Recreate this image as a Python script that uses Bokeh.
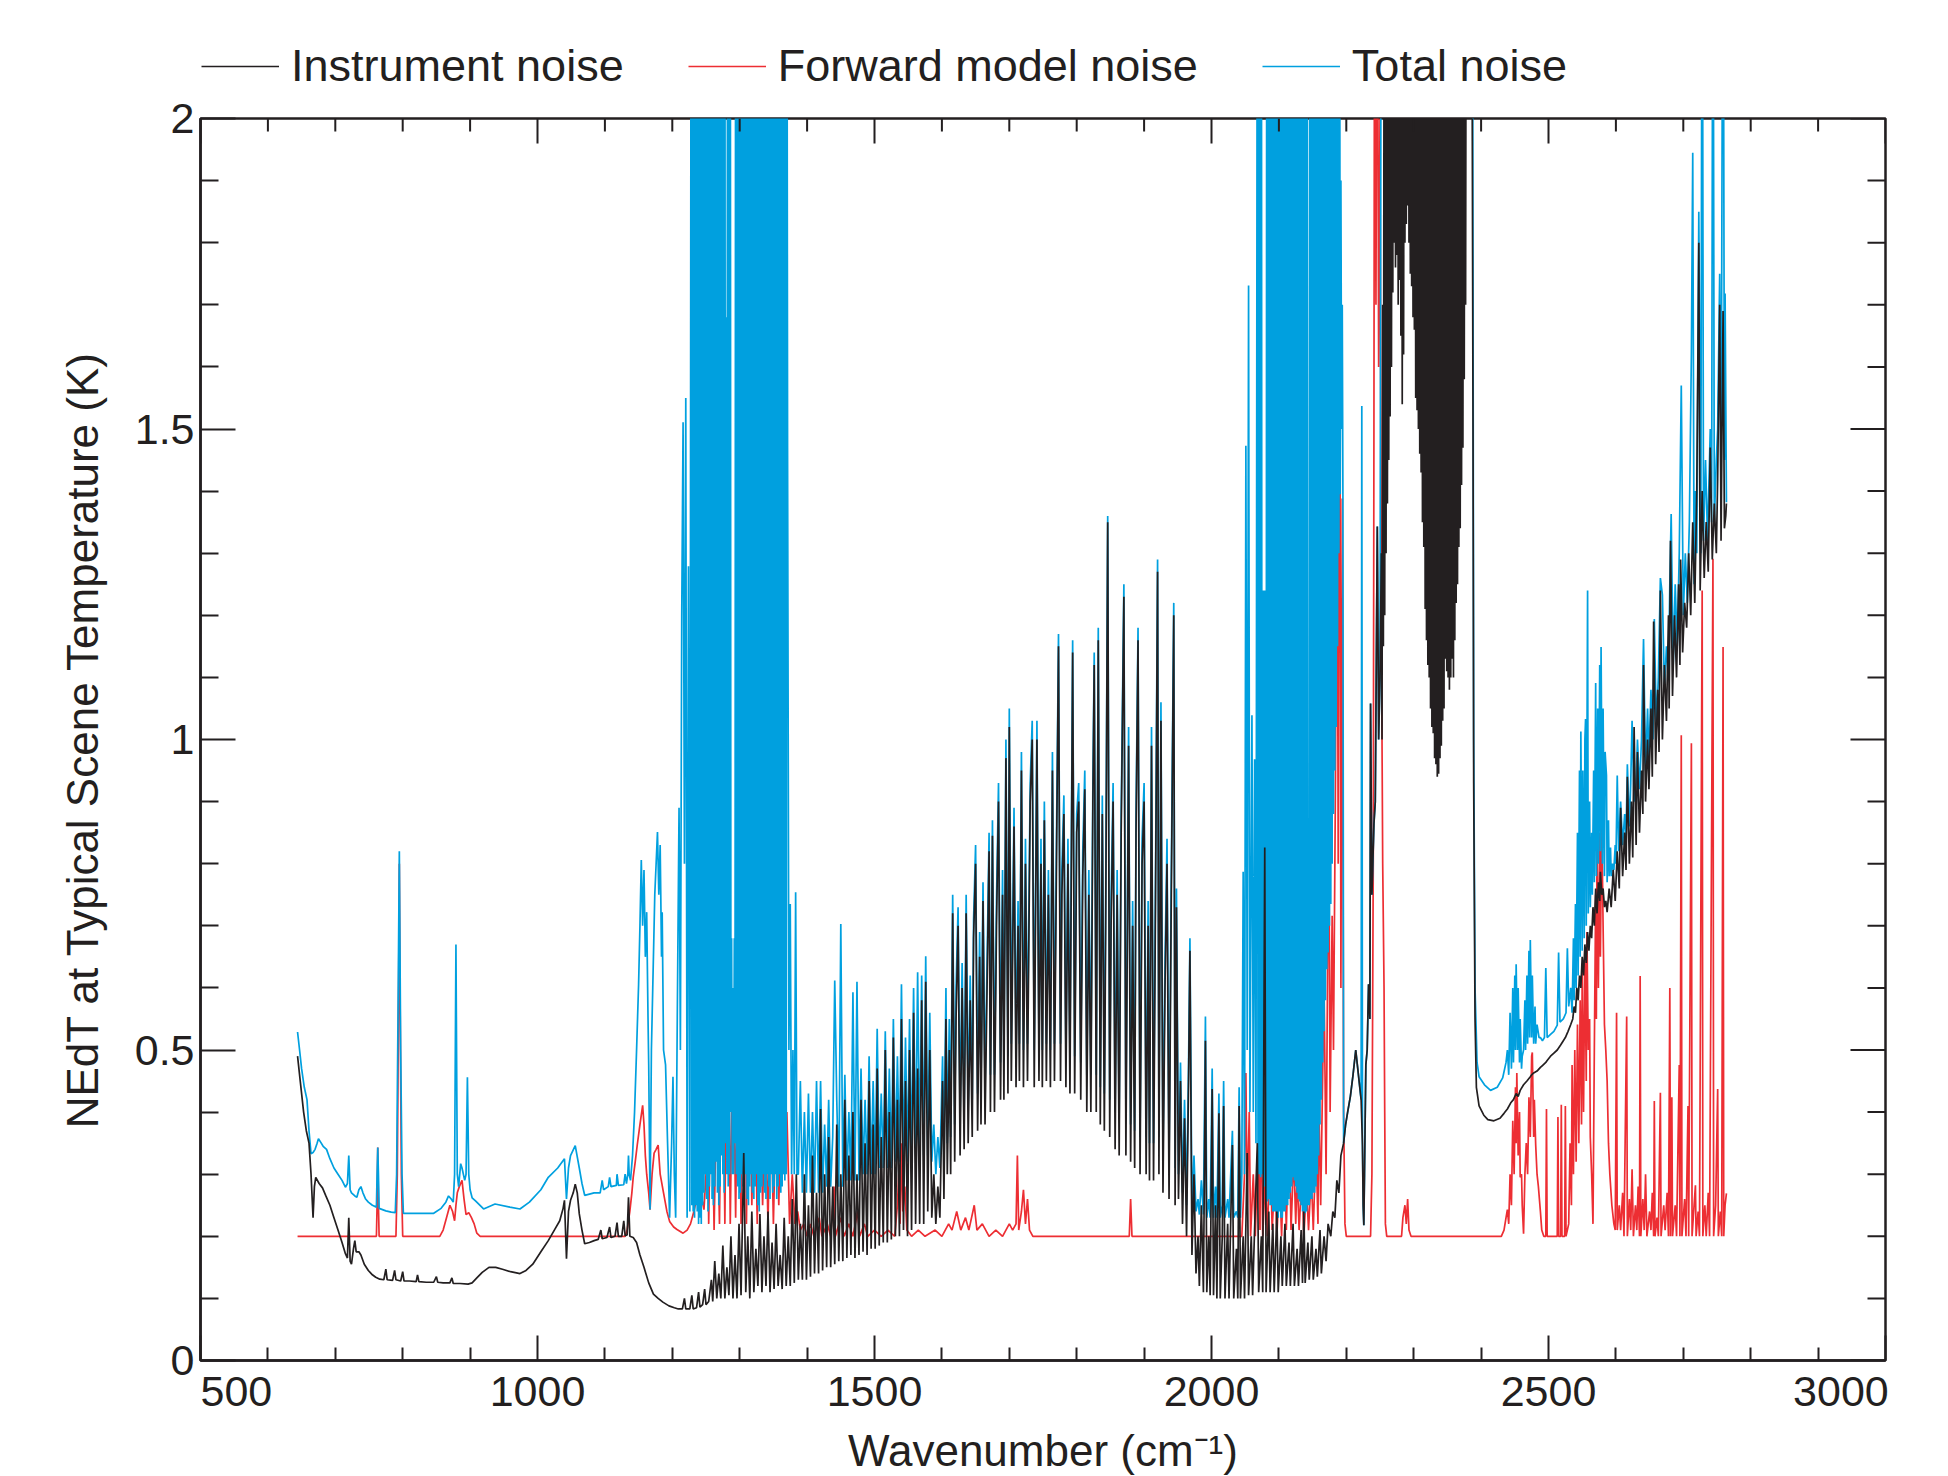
from bokeh.plotting import figure
from bokeh.layouts import column
from bokeh.models import Range1d, FixedTicker, NumeralTickFormatter, Legend, LegendItem
from bokeh.embed import file_html
from bokeh.resources import INLINE

FONT = "Liberation Sans"
TXT = "#231f20"
C_INST = "#231f20"
C_FM = "#ed2e33"
C_TOT = "#00a0df"

# ---------------- Instrument noise (black) ----------------
inst_a = [(644,0.49),(648,0.45),(653,0.40),(657,0.37),(661,0.35),(664,0.30),(667,0.23),(669,0.28),(671,0.295),(676,0.285),(681,0.278),(686,0.265),(692,0.25),(698,0.23),(704,0.21),(710,0.19),(715,0.172),(718,0.165),(720,0.23),(722,0.16),(724,0.155),(727,0.18),(729,0.193),(731,0.175),(735,0.175),(738,0.17),(743,0.155),(749,0.145),(755,0.138),(760,0.134),(766,0.131),(772,0.13),(775,0.147),(777,0.13),(785,0.129),(788,0.145),(790,0.13),(797,0.128),(800,0.143),(802,0.128),(810,0.128),(820,0.127),(822,0.138),(824,0.127),(835,0.126),(846,0.126),(850,0.135),(852,0.126),(860,0.125),(870,0.125),(873,0.133),(875,0.124),(885,0.124),(897,0.123),(903,0.125),(910,0.133),(918,0.142),(928,0.15),(938,0.15),(948,0.147),(960,0.143),(974,0.14),(983,0.145),(993,0.155),(1005,0.175),(1016,0.193),(1025,0.21),(1033,0.225),(1038,0.245),(1040,0.258),(1043,0.164),(1046,0.24),(1049,0.258),(1053,0.27),(1056,0.284),(1059,0.27),(1062,0.236),(1066,0.21),(1070,0.188),(1077,0.19),(1084,0.193),(1090,0.195),(1094,0.21),(1096,0.196),(1103,0.198),(1107,0.215),(1109,0.198),(1115,0.2),(1118,0.222),(1120,0.2),(1125,0.2),(1128,0.225),(1130,0.201),(1133,0.202),(1135,0.263),(1137,0.2),(1142,0.198),(1147,0.19),(1152,0.17),(1158,0.15),(1165,0.125),(1172,0.107),(1179,0.1),(1186,0.094),(1195,0.088),(1203,0.085),(1209,0.083),(1215,0.083),(1218,0.1),(1220,0.083),(1226,0.083),(1229,0.105),(1231,0.083),(1236,0.085),(1239,0.11),(1241,0.086),(1245,0.09),(1248,0.115),(1250,0.09),(1254,0.095)]

inst_b = [(1258,0.13),(1260,0.095),(1263,0.16),(1266,0.1),(1269,0.14),(1272,0.1),(1275,0.185),(1278,0.1),(1281,0.15),(1284,0.105),(1287,0.2),(1290,0.1),(1293,0.17),(1296,0.1),(1299,0.22),(1302,0.105),(1306,0.334),(1309,0.11),(1312,0.2),(1315,0.1),(1318,0.24),(1321,0.11),(1324,0.18),(1327,0.12),(1330,0.236),(1333,0.11),(1336,0.2),(1339,0.12),(1342,0.24),(1345,0.11),(1348,0.19),(1351,0.115),(1354,0.22),(1357,0.12),(1360,0.17),(1363,0.115),(1366,0.23),(1369,0.12),(1372,0.2),(1375,0.12),(1378,0.26),(1381,0.125),(1384,0.3)]

# shared wavenumber grid 1387-1985 for instrument and total noise
wn_mid = [1387,1390,1393,1396,1399,1402,1405,1408,1411,1414,1417,1420,1423,1426,1429,1432,1435,1438,1441,1444,1447,1450,1453,1456,1459,1462,1465,1468,1471,1474,1477,1480,1483,1486,1489,1492,1495,1498,1501,1504,1507,1510,1513,1516,1519,1522,1525,1528,1531,1534,1537,1540,1543,1546,1549,1552,1555,1558,1561,1564,1567,1570,1573,1576,1579,1582,1585,1588,1591,1594,1597,
          1601,1603,1606,1608,1611,1613,1616,1619,1621,1624,1627,1630,1633,1636,1639,1642,1645,1647,1650,1653,1656,1658,1661,1664,1667,1670,1672,1675,1678,1681,1684,1687,1690,1692,1695,1698,1700,1703,1707,1710,1713,1715,1718,1721,1724,1727,1731,1734,1737,1741,1744,1747,1749,1752,1755,1758,1761,1764,1767,1770,1773,1776,1778,1781,1784,1787,1790,1794,1797,1800,1803,1806,1809,1812,1815,1818,1821,1824,1826,1829,1832,1835,1838,1841,1843,1846,1849,1851,1854,1857,1860,1863,1866,1870,1873,1877,1880,1883,1886,1888,1891,1894,1897,1900,1903,1906,1908,1911,1914,1917,1920,1922,1925,1928,1931,1934,1937,1940,1944,1946,1948,1951,1954,1957,1960,1963,1966,1968,1971,1974,1977,1980,1982,1985]
inst_mid = [0.13,0.22,0.13,0.30,0.13,0.25,0.135,0.33,0.14,0.27,0.14,0.405,0.145,0.30,0.15,0.36,0.15,0.28,0.155,0.38,0.16,0.30,0.16,0.42,0.165,0.33,0.17,0.40,0.165,0.30,0.17,0.42,0.175,0.35,0.17,0.45,0.18,0.38,0.18,0.47,0.185,0.36,0.19,0.50,0.19,0.40,0.195,0.52,0.20,0.42,0.20,0.55,0.21,0.45,0.20,0.50,0.21,0.56,0.22,0.47,0.22,0.58,0.22,0.61,0.24,0.50,0.23,0.30,0.22,0.28,0.23,
            0.45,0.26,0.55,0.30,0.50,0.30,0.72,0.32,0.55,0.70,0.33,0.60,0.34,0.72,0.35,0.58,0.36,0.68,0.80,0.37,0.65,0.38,0.74,0.38,0.60,0.82,0.40,0.845,0.40,0.70,0.90,0.42,0.75,0.42,0.97,0.43,1.02,0.45,0.86,0.44,0.70,0.45,0.95,0.44,0.80,0.45,0.90,1.00,0.44,1.00,0.45,0.80,0.44,0.87,0.45,0.75,0.44,0.95,0.45,0.80,1.15,0.45,0.75,0.88,0.44,0.80,0.43,1.14,0.43,0.85,0.90,0.42,0.78,0.92,0.40,0.75,0.40,0.90,1.12,0.40,1.16,0.38,0.88,0.37,0.70,1.35,0.36,0.70,0.90,0.34,0.75,0.33,0.85,1.23,0.33,0.99,0.32,0.70,0.31,0.85,1.16,0.30,0.80,0.90,0.30,0.70,0.29,0.99,0.29,0.75,1.27,0.30,1.03,0.27,0.60,0.80,0.26,0.70,1.20,0.25,0.73,0.26,0.45,0.22,0.39,0.20,0.45,0.66,0.17,0.30,0.14,0.20,0.12,0.25]
total_mid = [0.30,0.45,0.27,0.40,0.27,0.43,0.27,0.40,0.27,0.45,0.27,0.45,0.27,0.38,0.28,0.42,0.28,0.36,0.612,0.42,0.28,0.703,0.28,0.46,0.29,0.40,0.29,0.593,0.29,0.61,0.29,0.47,0.30,0.42,0.30,0.49,0.30,0.45,0.30,0.534,0.31,0.43,0.31,0.53,0.31,0.47,0.31,0.55,0.32,0.49,0.32,0.606,0.32,0.52,0.32,0.55,0.32,0.60,0.33,0.625,0.33,0.62,0.33,0.651,0.33,0.56,0.32,0.38,0.30,0.36,0.31,
             0.49,0.32,0.60,0.35,0.55,0.36,0.75,0.38,0.60,0.73,0.39,0.64,0.40,0.75,0.41,0.62,0.42,0.71,0.83,0.43,0.69,0.44,0.77,0.44,0.64,0.85,0.46,0.87,0.46,0.74,0.93,0.48,0.79,0.48,1.00,0.49,1.05,0.51,0.89,0.50,0.74,0.51,0.98,0.50,0.84,0.51,0.93,1.03,0.50,1.03,0.51,0.84,0.50,0.90,0.51,0.79,0.50,0.98,0.51,0.84,1.17,0.51,0.79,0.91,0.50,0.84,0.49,1.16,0.49,0.88,0.93,0.48,0.82,0.95,0.46,0.79,0.46,0.93,1.14,0.46,1.18,0.44,0.91,0.43,0.74,1.36,0.42,0.74,0.93,0.40,0.79,0.39,0.88,1.25,0.39,1.02,0.38,0.74,0.37,0.88,1.18,0.36,0.84,0.93,0.36,0.74,0.35,1.02,0.35,0.79,1.29,0.36,1.06,0.33,0.64,0.84,0.32,0.74,1.22,0.31,0.76,0.30,0.48,0.27,0.42,0.25,0.48,0.68,0.24,0.33,0.24,0.26,0.235,0.29]

inst_d = [(1988,0.11),(1991,0.515),(1993,0.11),(1996,0.2),(1998,0.105),(2001,0.437),(2003,0.105),(2006,0.25),(2008,0.10),(2011,0.398),(2013,0.10),(2016,0.2),(2018,0.41),(2020,0.10),(2024,0.22),(2026,0.10),(2031,0.347),(2033,0.10),(2037,0.18),(2039,0.10),(2041,0.41),(2043,0.10),(2047,0.2),(2049,0.10),(2053,0.334),(2055,0.105),(2059,0.2),(2061,0.105),(2065,0.25),(2068,0.35),(2070,0.11),(2074,0.2),(2076,0.11),(2079,0.826),(2081,0.11),(2085,0.24),(2087,0.11),(2091,0.22),(2093,0.11),(2097,0.24),(2099,0.11),(2103,0.2),(2105,0.12),(2109,0.22),(2111,0.12),(2115,0.19),(2117,0.12),(2121,0.22),(2123,0.12),(2127,0.18),(2129,0.12),(2133,0.21),(2135,0.125),(2137,0.24),(2139,0.125),(2143,0.19),(2145,0.13),(2149,0.2),(2151,0.13),(2155,0.18),(2157,0.135),(2161,0.21),(2163,0.14),(2167,0.2),(2170,0.16),(2173,0.22),(2177,0.2),(2180,0.24),(2183,0.23),(2186,0.29),(2189,0.27),(2192,0.33),(2196,0.35),(2199,0.38),(2202,0.4),(2206,0.425),(2210,0.46),(2214,0.5),(2217,0.47),(2219,0.45),(2222,0.42),(2224,0.347),(2225,0.25),(2226,0.218),(2227,0.3),(2229,0.476),(2231,0.5),(2233,0.606),(2235,0.55),(2236,1.058),(2238,0.75),(2241,0.864),(2243,0.9),(2246,1.343),(2248,1.0),(2250,1.1),(2252,1.3),(2253,1.0),(2254,1.7),(2255,1.15),(2256,2.2),(2257,1.2)]

inst_e = [(2258,2.4),(2259,1.3),(2260,2.4),(2261,1.38),(2262,2.4),(2263,1.45),(2264,2.4),(2265,1.52),(2266,2.4),(2267,1.6),(2268,2.4),(2269,1.72),(2270,2.4),(2271,1.8),(2272,2.4),(2273,1.76),(2274,2.4),(2275,1.78),(2276,2.4),(2277,1.7),(2278,2.4),(2279,1.74),(2280,2.4),(2281,1.65),(2282,2.4),(2283,1.54),(2284,2.4),(2285,1.62),(2286,2.4),(2287,1.8),(2288,2.4),(2289,1.83),(2290,2.4),(2291,1.86),(2292,2.4),(2293,1.8),(2294,2.4),(2295,1.75),(2296,2.4),(2297,1.73),(2298,2.4),(2299,1.68),(2300,2.4),(2301,1.66),(2302,2.4),(2303,1.55),(2304,2.4),(2305,1.53),(2306,2.4),(2307,1.5),(2308,2.4),(2309,1.46),(2310,2.4),(2311,1.43),(2312,2.4),(2313,1.35),(2314,2.4),(2315,1.31),(2316,2.4),(2317,1.21),(2318,2.4),(2319,1.16),(2320,2.4),(2321,1.12),(2322,2.4),(2323,1.1),(2324,2.4),(2325,1.05),(2326,2.4),(2327,1.02),(2328,2.4),(2329,1.01),(2330,2.4),(2331,0.97),(2332,2.4),(2333,0.96),(2334,2.4),(2335,0.94),(2336,2.4),(2337,0.945),(2338,2.4),(2339,0.97),(2340,2.4),(2341,0.99),(2342,2.4),(2343,1.03),(2344,2.4),(2345,1.05),(2346,2.4),(2347,1.13),(2348,2.4),(2349,1.11),(2350,2.4),(2351,1.1),(2352,2.4),(2353,1.08),(2354,2.4),(2355,1.1),(2356,2.4),(2357,1.13),(2358,2.4),(2359,1.1),(2360,2.4),(2361,1.16),(2362,2.4),(2363,1.22),(2364,2.4),(2365,1.25),(2366,2.4),(2367,1.31),(2368,2.4),(2369,1.34),(2370,2.4),(2371,1.41),(2372,2.4),(2373,1.47),(2374,2.4),(2375,1.58),(2376,2.4),(2377,1.7),(2378,2.4),(2386,2.4)]

inst_f = [(2388,1.5),(2389,0.93),(2391,0.55),(2393,0.44),(2397,0.41),(2404,0.395),(2410,0.388),(2419,0.386),(2428,0.39),(2434,0.398),(2439,0.405),(2444,0.415),(2448,0.42),(2452,0.43),(2455,0.425),(2458,0.435),(2463,0.444),(2468,0.45),(2473,0.457),(2475,0.46),(2478,0.463),(2483,0.466),(2488,0.472),(2491,0.475),(2496,0.48),(2498,0.483),(2503,0.49),(2508,0.495),(2513,0.5),(2518,0.508),(2522,0.515),(2525,0.52),(2529,0.53),(2533,0.541),(2536,0.55),(2538,0.57),(2540,0.56),(2542,0.6),(2544,0.58),(2546,0.62),(2548,0.6),(2550,0.65),(2552,0.62),(2554,0.67),(2556,0.64),(2558,0.69),(2560,0.66),(2562,0.7),(2564,0.68),(2566,0.73),(2568,0.7),(2570,0.76),(2572,0.72),(2574,0.77),(2576,0.74),(2577,0.787),(2579,0.75),(2581,0.76),(2583,0.73),(2585,0.74),(2587,0.722),
          (2590,0.76),(2593,0.73),(2596,0.79),(2599,0.74),(2602,0.82),(2605,0.76),(2607,0.89),(2610,0.78),(2613,0.85),(2615,0.79),(2617,0.94),(2620,0.8),(2623,0.9),(2625,0.81),(2627,1.02),(2630,0.83),(2632,0.98),(2635,0.85),(2638,0.95),(2640,0.88),(2641,1.12),(2644,0.9),(2647,1.0),(2649,0.92),(2652,1.05),(2654,0.94),(2656,1.19),(2659,0.96),(2662,1.08),(2664,0.98),(2666,1.24),(2669,1.0),(2672,1.12),(2675,1.03),(2678,1.2),(2679,1.05),(2681,1.32),(2684,1.07),(2687,1.2),(2690,1.1),(2693,1.25),(2695,1.12),(2696,1.29),(2699,1.14),(2702,1.22),(2705,1.18),(2708,1.3),(2711,1.2),(2714,1.35),(2717,1.22),(2720,1.4),(2723,1.8),(2725,1.24),(2728,1.4),(2731,1.26),(2734,1.35),(2737,1.27),(2740,1.47),(2743,1.29),(2746,1.38),(2749,1.3),(2751,1.42),(2754,1.7),(2756,1.32),(2759,1.69),(2761,1.34),(2763,1.36),(2764,1.38)]

# ---------------- Total noise (blue) ----------------
total_a = [(644,0.529),(647,0.5),(650,0.47),(654,0.44),(658,0.42),(661,0.37),(664,0.333),(667,0.335),(670,0.34),(673,0.35),(675,0.357),(678,0.352),(682,0.345),(687,0.34),(692,0.325),(698,0.31),(704,0.3),(710,0.29),(715,0.279),(718,0.285),(720,0.33),(722,0.275),(724,0.27),(729,0.265),(732,0.263),(735,0.275),(738,0.28),(741,0.27),(745,0.26),(749,0.255),(755,0.25),(761,0.247),(762,0.3),(763,0.343),(764,0.3),(765,0.245),(775,0.241),(783,0.239),(789,0.238),(791,0.3),(793,0.55),(795,0.82),(797,0.5),(799,0.3),(801,0.237),(823,0.237),(846,0.237),(857,0.245),(864,0.255),(868,0.265),(872,0.26),(875,0.255),(877,0.3),(879,0.67),(881,0.3),(883,0.28),(886,0.317),(888,0.31),(892,0.29),(894,0.3),(896,0.456),(898,0.3),(900,0.275),(903,0.262),(908,0.257),(920,0.244),(937,0.252),(959,0.247),(974,0.244),(988,0.255),(1005,0.275),(1016,0.295),(1030,0.31),(1040,0.325),(1043,0.26),(1046,0.31),(1049,0.33),(1056,0.346),(1062,0.31),(1066,0.285),(1070,0.266),(1084,0.27),(1093,0.27),(1096,0.29),(1098,0.275),(1105,0.28),(1107,0.295),(1109,0.28),(1117,0.282),(1118,0.3),(1120,0.282),(1128,0.283),(1130,0.3),(1132,0.285),(1134,0.3),(1135,0.33),(1136,0.3),(1138,0.29),(1141,0.33),(1144,0.4),(1147,0.5),(1150,0.606),(1152,0.7),(1154,0.806),(1156,0.7),(1158,0.79),(1160,0.65),(1162,0.722),(1164,0.55),(1165,0.476),(1167,0.243),(1169,0.5),(1171,0.6),(1174,0.75),(1176,0.8),(1178,0.851),(1180,0.75),(1182,0.83),(1184,0.65),(1185,0.722),(1187,0.5),(1190,0.476),(1193,0.35),(1196,0.23),(1199,0.35),(1201,0.457),(1203,0.3),(1205,0.23),(1207,0.5),(1210,0.89),(1212,0.5),(1214,1.2),(1216,1.511),(1218,0.8),(1220,1.55),(1222,0.23),(1224,1.279),(1226,0.24)]

total_b = [(1228,2.5),(1229,0.25),(1230,2.5),(1231,0.24),(1232,2.5),(1233,0.23),(1234,2.5),(1235,0.25),(1236,2.5),(1237,0.24),(1238,2.5),(1239,0.22),(1240,2.5),(1241,0.23),(1242,2.5),(1243,0.22),(1244,2.5),(1245,0.25),(1246,2.5),(1247,0.27),(1248,2.5),(1249,0.3),(1250,2.5),(1251,0.26),(1252,2.5),(1253,0.24),(1254,2.5),(1255,0.28),(1256,2.5),(1257,0.3),(1258,2.5),(1259,0.26),(1260,2.5),(1261,0.25),(1262,2.5),(1263,0.28),(1264,2.5),(1265,0.32),(1266,2.5),(1267,0.27),(1268,2.5),(1269,0.25),(1270,2.5),(1271,0.28),(1272,2.5),(1273,0.33),(1274,2.5),(1275,0.3),(1276,2.5),(1277,0.27),(1278,2.5),(1279,0.35),(1280,1.68),(1281,0.3),(1282,2.5),(1283,0.28),(1284,2.5),(1285,0.3),(1286,2.5),
           (1287,0.4),(1288,0.68),(1289,0.3),(1290,0.6),(1291,0.3),(1292,0.68),(1293,0.35),
           (1294,2.5),(1295,0.3),(1296,2.5),(1297,0.28),(1298,2.5),(1299,0.26),(1300,2.5),(1301,0.27),(1302,2.5),(1303,0.3),(1304,2.5),(1305,0.28),(1306,2.5),(1307,0.27),(1308,2.5),(1309,0.3),(1310,2.5),(1311,0.26),(1312,2.5),(1313,0.25),(1314,2.5),(1315,0.28),(1316,2.5),(1317,0.3),(1318,2.5),(1319,0.27),(1320,2.5),(1321,0.26),(1322,2.5),(1323,0.28),(1324,2.5),(1325,0.3),(1326,2.5),(1327,0.25),(1328,2.5),(1329,0.24),(1330,2.5),(1331,0.27),(1332,2.5),(1333,0.28),(1334,2.5),(1335,0.3),(1336,2.5),(1337,0.27),(1338,2.5),(1339,0.26),(1340,2.5),(1341,0.3),(1342,2.5),(1343,0.28),(1344,2.5),(1345,0.26),(1346,2.5),(1347,0.3),(1348,2.5),(1349,0.27),(1350,2.5),(1351,0.28),(1352,2.5),(1353,0.3),(1354,2.5),(1355,0.26),(1356,2.5),(1357,0.28),(1358,2.5),(1359,0.3),(1360,2.5),(1361,0.27),(1362,2.5),(1363,0.28),(1364,2.5),(1365,0.3),(1366,2.5),(1367,0.29),(1368,2.5),(1369,0.3),(1370,2.5),
           (1371,1.473),(1373,0.5),(1375,0.735),(1377,0.3),(1379,0.5),(1381,0.3),(1383,0.754),(1385,0.3)]

total_d = [(1988,0.235),(1991,0.554),(1993,0.23),(1996,0.26),(1998,0.23),(2001,0.47),(2003,0.23),(2006,0.28),(2008,0.23),(2011,0.43),(2013,0.23),(2016,0.25),(2018,0.45),(2020,0.23),(2024,0.26),(2026,0.23),(2031,0.37),(2033,0.23),(2037,0.24),(2039,0.23),(2041,0.44),(2043,0.23),(2045,0.3),(2047,0.787),(2049,0.3),(2051,1.473),(2053,0.5),(2055,1.731),(2057,0.4),(2060,1.039),(2062,0.4),(2064,0.968),(2066,0.35),
           (2068,2.5),(2069,0.3),(2070,2.5),(2071,0.3),(2072,2.5),(2073,0.295),(2074,2.5),(2075,0.3),(2076,1.24),(2077,0.3),(2078,1.24),(2079,0.28),(2080,1.24),(2081,0.26),(2082,2.5),(2083,0.256),(2084,2.5),(2085,0.26),(2086,2.5),(2087,0.25),(2088,2.5),(2089,0.25),(2090,2.5),(2091,0.24),(2092,2.5),(2093,0.24),(2094,2.5),(2095,0.24),(2096,2.5),(2097,0.23),(2098,2.5),(2099,0.23),(2100,2.5),(2101,0.24),(2102,2.5),(2103,0.23),(2104,2.5),(2105,0.23),(2106,2.5),(2107,0.24),(2108,2.5),(2109,0.24),(2110,2.5),(2111,0.25),(2112,2.5),(2113,0.25),(2114,2.5),(2115,0.26),(2116,2.5),(2117,0.27),(2118,2.5),(2119,0.28),(2120,2.5),(2121,0.295),(2122,2.5),(2123,0.29),(2124,2.5),(2125,0.28),(2126,2.5),(2127,0.27),(2128,2.5),(2129,0.26),(2130,2.5),(2131,0.256),(2132,2.5),(2133,0.25),(2134,2.5),(2135,0.24),(2136,2.5),(2137,0.24),(2138,2.5),(2139,0.237),(2140,2.5),(2141,0.24),(2142,2.5),(2143,0.25),(2144,0.54),(2145,0.25),(2146,2.5),(2147,0.26),(2148,2.5),(2149,0.26),(2150,2.5),(2151,0.27),(2152,2.5),(2153,0.27),(2154,2.5),(2155,0.28),(2156,2.5),(2157,0.3),(2158,2.5),(2159,0.33),(2160,2.5),(2161,0.38),(2162,2.5),(2163,0.42),(2164,2.5),(2165,0.48),(2166,2.5),(2167,0.53),(2168,2.5),(2169,0.58),(2170,2.5),(2171,0.63),(2172,2.5),(2173,0.657),(2174,2.5),(2175,0.7),(2176,2.5),(2177,0.735),(2178,2.5),(2179,0.8),(2180,2.5),(2181,0.88),(2182,2.5),(2183,0.95),(2184,2.5),(2185,1.02),(2186,2.5),(2187,1.15),(2188,2.5),(2189,1.3),(2190,2.5),(2191,1.395),(2192,1.9),(2193,1.5),(2194,1.7),(2195,1.386)]

total_e = [(2196,0.35),(2199,0.38),(2202,0.4),(2206,0.425),(2210,0.46),(2214,0.5),(2217,0.47),(2219,0.45),(2222,0.42),(2223,1.537),(2224,0.347),(2225,0.25),(2226,0.218),(2227,0.3),(2229,0.476),(2231,0.5),(2233,0.606),(2235,0.55),(2236,1.058),(2238,0.75),(2241,0.864),(2243,0.9),(2246,1.343),(2248,1.0),(2250,1.1),(2252,2.5),(2386,2.5)]

total_f = [(2387,2.5),(2389,1.0),(2391,0.6),(2394,0.48),(2397,0.457),(2405,0.444),(2414,0.435),(2424,0.44),(2432,0.455),(2437,0.48),(2439,0.5),(2441,0.46),(2443,0.56),(2445,0.47),(2447,0.6),(2448,0.48),(2450,0.62),(2451,0.5),(2452,0.638),(2454,0.5),(2455,0.6),(2457,0.48),(2458,0.55),(2460,0.47),(2461,0.49),(2463,0.5),(2465,0.58),(2466,0.5),(2468,0.62),(2469,0.51),(2471,0.66),(2472,0.52),(2473,0.677),(2475,0.52),(2476,0.62),(2478,0.51),(2480,0.57),(2481,0.51),(2483,0.541),(2486,0.52),(2488,0.52),(2491,0.515),(2494,0.52),(2496,0.632),(2498,0.52),(2503,0.525),(2508,0.53),(2513,0.54),(2515,0.657),(2517,0.545),(2522,0.55),(2526,0.56),(2528,0.664),(2530,0.57),(2533,0.6),(2535,0.56),(2537,0.68),(2538,0.58),(2540,0.735),(2541,0.6),(2543,0.85),(2544,0.62),(2546,0.95),(2547,0.65),(2548,1.013),(2550,0.66),(2551,0.95),(2553,0.68),(2554,1.0),(2555,1.033),(2556,0.7),(2558,1.24),(2559,0.72),(2561,0.9),(2562,0.73),(2564,0.85),(2565,0.75),(2567,0.95),(2568,0.77),(2570,1.091),(2571,0.78),(2573,1.05),(2574,0.8),(2576,1.12),(2577,0.82),(2578,1.149),(2580,0.8),(2581,1.05),(2583,0.78),(2584,0.98),(2586,0.942),(2587,0.77),(2589,0.87),(2590,0.78),(2592,0.826),(2593,0.78),(2595,0.8),(2597,0.79),(2599,0.83),(2600,0.8),(2602,0.942),(2604,0.82),(2607,0.9),(2610,0.83),(2613,0.88),(2615,0.84),(2617,0.96),(2620,0.86),(2622,0.93),(2624,1.03),(2627,0.9),(2630,0.93),(2632,1.0),(2635,0.92),(2638,1.0),(2641,1.162),(2644,0.95),(2647,1.05),(2649,0.97),(2652,1.08),(2655,1.0),(2657,1.194),(2660,1.02),(2663,1.1),(2666,1.26),(2669,1.233),(2672,1.08),(2675,1.15),(2678,1.1),(2680,1.25),(2682,1.363),(2685,1.12),(2688,1.25),(2691,1.15),(2694,1.3),(2697,1.57),(2700,1.2),(2703,1.3),(2706,1.22),(2709,1.35),(2712,1.621),(2714,1.945),(2716,1.25),(2718,1.4),(2720,1.3),(2723,1.85),(2726,1.3),(2728,2.5),(2730,1.32),(2733,1.45),(2736,1.32),(2740,1.5),(2742,1.35),(2744,2.5),(2746,1.35),(2749,1.45),(2751,1.5),(2754,1.75),(2756,1.38),(2759,2.5),(2761,1.45),(2762,1.718),(2764,1.382)]

# ---------------- Forward model noise (red) ----------------
fm_a = [(644,0.2),(761,0.2),(762,0.25),(763,0.343),(764,0.25),(765,0.2),(790,0.2),(792,0.3),(794,0.6),(795,0.8),(796,0.6),(798,0.3),(800,0.2),(855,0.2),(860,0.21),(865,0.23),(870,0.25),(874,0.24),(877,0.225),(879,0.25),(881,0.27),(884,0.28),(888,0.29),(891,0.26),(894,0.235),(898,0.238),(902,0.23),(906,0.22),(910,0.205),(915,0.2),(1130,0.2),(1133,0.21),(1137,0.24),(1140,0.27),(1142,0.295),(1145,0.32),(1148,0.347),(1152,0.38),(1156,0.411),(1158,0.38),(1160,0.33),(1162,0.3),(1165,0.27),(1167,0.243),(1170,0.3),(1173,0.334),(1176,0.34),(1179,0.347),(1182,0.3),(1187,0.27),(1192,0.24),(1196,0.224),(1202,0.215),(1207,0.211),(1216,0.205),(1222,0.21),(1227,0.22),(1232,0.24),(1236,0.26),(1241,0.295),(1244,0.26),(1247,0.243)]

fm_b = [(1250,0.3),(1252,0.45),(1254,0.22),(1258,0.5),(1262,0.21),(1266,0.45),(1270,0.22),(1274,0.6),(1278,0.22),(1282,0.7),(1286,0.22),(1290,0.55),(1294,0.23),(1298,0.6),(1302,0.22),(1306,0.8),(1310,0.22),(1314,0.6),(1318,0.25),(1322,0.5),(1326,0.22),(1330,0.45),(1334,0.25),(1338,0.42),(1342,0.22),(1346,0.45),(1350,0.22),(1354,0.42),(1358,0.25),(1362,0.45),(1366,0.3),(1370,0.4),(1374,0.22),(1378,0.3),(1382,0.22),(1386,0.24),(1390,0.21),(1395,0.22)]

fm_c = [(1400,0.2),(1405,0.22),(1410,0.2),(1418,0.23),(1422,0.2),(1430,0.22),(1435,0.2),(1440,0.28),(1442,0.2),(1450,0.23),(1455,0.2),(1462,0.22),(1468,0.2),(1475,0.24),(1478,0.2),(1485,0.22),(1490,0.2),(1500,0.21),(1510,0.2),(1520,0.21),(1530,0.2),(1534,0.25),(1536,0.3),(1538,0.22),(1540,0.35),(1542,0.24),(1545,0.28),(1548,0.21),(1555,0.2),(1565,0.21),(1575,0.2),(1590,0.21),(1600,0.2),(1610,0.22),(1615,0.21),(1622,0.24),(1628,0.21),(1635,0.23),(1640,0.21),(1648,0.25),(1652,0.21),(1660,0.22),(1670,0.2),(1680,0.21),(1690,0.2),(1700,0.22),(1705,0.21),(1710,0.22),(1712,0.33),(1714,0.21),(1718,0.24),(1721,0.275),(1724,0.22),(1727,0.26),(1730,0.21),(1735,0.2),(1878,0.2),(1880,0.26),(1882,0.2),(2045,0.2)]

fm_d = [(2049,0.3),(2051,0.463),(2053,0.25),(2056,0.4),(2058,0.2),(2062,0.3),(2065,0.2),(2069,0.35),(2072,0.21),(2073,0.437),(2076,0.2),(2080,0.3),(2083,0.2),(2087,0.35),(2090,0.21),(2094,0.3),(2097,0.2),(2101,0.3),(2104,0.2),(2108,0.35),(2111,0.21),(2115,0.386),(2118,0.21),(2122,0.33),(2125,0.22),(2127,0.3),(2130,0.21),(2134,0.3),(2137,0.2),(2141,0.28),(2144,0.21),(2148,0.3),(2151,0.21),(2155,0.35),(2158,0.22),(2159,0.437),(2162,0.25),(2167,0.606),(2170,0.3),(2174,0.89),(2176,0.4),(2179,0.716),(2181,0.5),(2184,0.942),(2186,1.654),(2188,0.8),(2190,1.9),(2192,0.6),(2194,1.388),(2196,0.4),(2198,0.22),(2200,0.2)]

fm_e = [(2236,0.2),(2238,0.3),(2240,0.8),(2241,1.5),(2242,2.4),(2244,1.7),(2246,2.4),(2248,1.6),(2250,2.0),(2252,1.2),(2254,0.8),(2256,0.6),(2257,0.4),(2258,0.22),(2260,0.2),(2282,0.2),(2284,0.23),(2287,0.25),(2289,0.22),(2291,0.26),(2293,0.21),(2296,0.2),(2430,0.2)]

fm_f = [(2434,0.21),(2437,0.23),(2439,0.243),(2441,0.22),(2443,0.3),(2445,0.25),(2447,0.386),(2449,0.3),(2451,0.44),(2452,0.35),(2453,0.463),(2455,0.33),(2457,0.4),(2458,0.295),(2460,0.3),(2461,0.25),(2463,0.204),(2465,0.3),(2467,0.35),(2469,0.3),(2471,0.424),(2473,0.36),(2475,0.49),(2476,0.496),(2478,0.36),(2479,0.42),(2481,0.347),(2483,0.3),(2485,0.28),(2488,0.24),(2490,0.21),(2493,0.2),(2496,0.2),(2497,0.405),(2498,0.2),(2513,0.2),(2514,0.392),(2515,0.2),(2518,0.2),(2519,0.412),(2520,0.2),(2524,0.2),(2525,0.41),(2526,0.2),(2530,0.22),(2532,0.35),(2534,0.25),(2535,0.476),(2537,0.3),(2539,0.5),(2541,0.32),(2543,0.541),(2545,0.35),(2547,0.58),(2549,0.38),(2550,0.632),(2552,0.4),(2554,0.66),(2556,0.45),(2557,0.69),(2559,0.5),(2561,0.55),(2562,0.36),(2564,0.3),(2566,0.22),(2568,0.5),(2570,0.75),(2571,0.55),(2572,0.838),(2574,0.6),(2576,0.85),(2577,0.65),(2579,0.871),(2581,0.7),(2583,0.541),(2585,0.5),(2587,0.45),(2589,0.35),(2591,0.3),(2594,0.25),(2597,0.22),(2599,0.21),(2601,0.56),(2602,0.21),(2605,0.25),(2607,0.21),(2610,0.27),(2612,0.2),(2616,0.554),(2617,0.2),(2620,0.26),(2622,0.21),(2624,0.308),(2626,0.2),(2629,0.25),(2631,0.21),(2633,0.28),(2635,0.2),(2636,0.619),(2637,0.2),(2640,0.26),(2642,0.21),(2644,0.3),(2646,0.2),(2650,0.24),(2652,0.21),(2654,0.27),(2656,0.2),(2657,0.418),(2658,0.2),(2661,0.23),(2663,0.2),(2666,0.431),(2667,0.2),(2671,0.25),(2673,0.21),(2676,0.27),(2678,0.2),(2680,0.6),(2681,0.2),(2683,0.424),(2684,0.2),(2688,0.25),(2690,0.2),(2694,0.476),(2695,0.2),(2697,1.007),(2698,0.2),(2702,0.26),(2704,0.2),(2707,0.41),(2708,0.2),(2712,0.994),(2713,0.2),(2716,0.25),(2718,0.282),(2719,0.2),(2722,0.24),(2724,0.2),(2728,1.24),(2729,0.2),(2732,0.25),(2734,0.2),(2737,0.27),(2739,0.2),(2744,1.291),(2745,0.2),(2748,0.25),(2751,0.437),(2752,0.2),(2755,0.24),(2757,0.2),(2759,1.149),(2760,0.2),(2762,0.25),(2764,0.269)]

x_major = [500, 1000, 1500, 2000, 2500, 3000]
y_major = [0, 0.5, 1, 1.5, 2]
x_minor = [v for v in range(500, 3001, 100) if v % 500 != 0]
y_minor = [round(v * 0.1, 1) for v in range(0, 21) if v % 5 != 0]
NB = "\u00a0"
x_label_text = {500: NB * 6 + "500", 3000: "3000" + NB * 5}

X0, X1, Y0, Y1 = 500, 3000, 0, 2
FRAME_W, FRAME_H = 1685, 1242   # frame size in pixels
PLOT_TOP = 26                   # room above the frame for the "2" tick label
STRIP_H = 92                    # height of the legend strip above the plot


def unzip(*parts):
    xs, ys = [], []
    for part in parts:
        for a, b in part:
            xs.append(a)
            ys.append(b)
    return xs, ys


inst_x, inst_y = unzip(inst_a, inst_b, list(zip(wn_mid, inst_mid)), inst_d, inst_e, inst_f)
tot_x, tot_y = unzip(total_a, total_b, list(zip(wn_mid, total_mid)), total_d, total_e, total_f)
fm_x, fm_y = unzip(fm_a, fm_b, fm_c, fm_d, fm_e, fm_f)

p = figure(frame_width=FRAME_W, frame_height=FRAME_H, output_backend="svg", toolbar_location=None,
           title=None, x_range=Range1d(X0, X1), y_range=Range1d(Y0, Y1),
           min_border_left=200, min_border_right=63, min_border_top=PLOT_TOP, min_border_bottom=116,
           x_axis_label="Wavenumber (cm\u207b\u00b9)",
           y_axis_label="NEdT at Typical Scene Temperature (K)")
p.xgrid.visible = False
p.ygrid.visible = False
p.outline_line_color = TXT
p.outline_line_width = 2.5
p.background_fill_color = "white"
p.border_fill_color = "white"


def style_axis(ax, maj, mnr):
    ax.major_tick_in = maj
    ax.major_tick_out = 0
    ax.minor_tick_in = mnr
    ax.minor_tick_out = 0
    ax.major_tick_line_width = 2
    ax.minor_tick_line_width = 2
    ax.major_tick_line_color = TXT
    ax.minor_tick_line_color = TXT
    ax.axis_line_color = TXT
    ax.axis_line_width = 2.5
    ax.major_label_text_font = FONT
    ax.major_label_text_color = TXT
    ax.major_label_text_font_size = "43px"
    ax.axis_label_text_font = FONT
    ax.axis_label_text_font_style = "normal"
    ax.axis_label_text_color = TXT
    ax.axis_label_text_font_size = "44px"


bx = p.below[0]
bx.ticker = FixedTicker(ticks=x_major, minor_ticks=x_minor)
bx.formatter = NumeralTickFormatter(format="0")
bx.major_label_overrides = x_label_text
style_axis(bx, 25, 13)
bx.major_label_standoff = 6
bx.axis_label_standoff = 8

ly = p.left[0]
ly.ticker = FixedTicker(ticks=y_major, minor_ticks=y_minor)
ly.formatter = NumeralTickFormatter(format="0.[0]")
style_axis(ly, 35, 18)
ly.major_label_standoff = 6
ly.axis_label_standoff = 25

p.line(fm_x, fm_y, line_color=C_FM, line_width=1.7)
p.line(tot_x, tot_y, line_color=C_TOT, line_width=1.7)
p.line(inst_x, inst_y, line_color=C_INST, line_width=1.7)

# mirrored inward ticks on the top and right frame edges (same tick lists as the axes)
dy_major = 25 / FRAME_H * (Y1 - Y0)
dy_minor = 13 / FRAME_H * (Y1 - Y0)
dx_major = 35 / FRAME_W * (X1 - X0)
dx_minor = 18 / FRAME_W * (X1 - X0)
p.segment(x0=x_major, y0=[Y1] * len(x_major), x1=x_major, y1=[Y1 - dy_major] * len(x_major),
          line_color=TXT, line_width=2)
p.segment(x0=x_minor, y0=[Y1] * len(x_minor), x1=x_minor, y1=[Y1 - dy_minor] * len(x_minor),
          line_color=TXT, line_width=2)
p.segment(x0=[X1] * len(y_major), y0=y_major, x1=[X1 - dx_major] * len(y_major), y1=y_major,
          line_color=TXT, line_width=2)
p.segment(x0=[X1] * len(y_minor), y0=y_minor, x1=[X1 - dx_minor] * len(y_minor), y1=y_minor,
          line_color=TXT, line_width=2)

# legend strip above the plot; its swatch renderers carry the series but sit outside its view
lg = figure(width=1948, height=STRIP_H, output_backend="svg", toolbar_location=None, title=None,
            x_axis_type=None, y_axis_type=None, x_range=Range1d(0, 1), y_range=Range1d(0, 1),
            min_border_left=0, min_border_right=0, min_border_top=0, min_border_bottom=0)
lg.xgrid.visible = False
lg.ygrid.visible = False
lg.outline_line_color = None
lg.background_fill_color = "white"
lg.border_fill_color = "white"
k_inst = lg.line(inst_x, inst_y, line_color=C_INST, line_width=1.7)
k_fm = lg.line(fm_x, fm_y, line_color=C_FM, line_width=1.7)
k_tot = lg.line(tot_x, tot_y, line_color=C_TOT, line_width=1.7)
legend = Legend(items=[LegendItem(label="Instrument noise", renderers=[k_inst]),
                       LegendItem(label="Forward model noise", renderers=[k_fm]),
                       LegendItem(label="Total noise", renderers=[k_tot])],
                orientation="horizontal", location=(1, 0),
                padding=0, margin=0, spacing=64,
                glyph_width=78, glyph_height=52, label_height=52, label_standoff=12,
                label_text_font=FONT, label_text_font_size="45px", label_text_color=TXT,
                border_line_alpha=0, background_fill_alpha=0)
lg.add_layout(legend)

layout = column(lg, p, spacing=0)
open("out.html", "w").write(file_html(layout, INLINE))
